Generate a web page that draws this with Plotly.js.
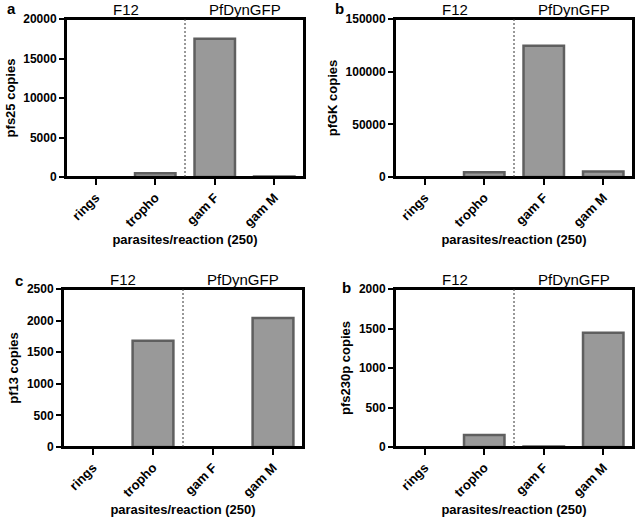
<!DOCTYPE html>
<html>
<head>
<meta charset="utf-8">
<script src="https://cdn.plot.ly/plotly-3.0.1.min.js"></script>
<style>
  html, body { margin: 0; padding: 0; background: #fff; }
  #plot { width: 638px; height: 519px; }
</style>
</head>
<body>
<div id="plot"></div>
<script>
// stages (same for every panel)
const stages = ["rings", "tropho", "gam F", "gam M"];
const groups = ["F12", "PfDynGFP"];

// copies per gene
const pfs25 = [0, 480, 17500, 60];
const pfGK = [0, 4500, 124500, 5200];
const pf13 = [0, 1680, 0, 2040];
const pfs230p = [0, 152, 5, 1445];

const W = 638, H = 519;
const FONT = "Liberation Sans, Arial, sans-serif";

const panels = [
  { letter: "a", ytitle: "pfs25 copies", y: pfs25, max: 20000, dtick: 5000,
    left: 66, right: 304, top: 19, bottom: 177, lx: 5, ly: 8 },
  { letter: "b", ytitle: "pfGK copies", y: pfGK, max: 150000, dtick: 50000,
    left: 395, right: 633, top: 19, bottom: 177, lx: 333, ly: 8 },
  { letter: "c", ytitle: "pf13 copies", y: pf13, max: 2500, dtick: 500,
    left: 63, right: 303, top: 289, bottom: 447, lx: 13, ly: 280 },
  { letter: "b", ytitle: "pfs230p copies", y: pfs230p, max: 2000, dtick: 500,
    left: 395, right: 633, top: 289, bottom: 447, lx: 340, ly: 288 }
];

const data = [];
const layout = {
  width: W, height: H,
  margin: { l: 0, r: 0, t: 0, b: 0 },
  paper_bgcolor: "#fff",
  plot_bgcolor: "#fff",
  showlegend: false,
  font: { family: FONT, color: "#000" },
  annotations: [],
  shapes: []
};

panels.forEach((p, i) => {
  const n = i + 1;
  const xa = n === 1 ? "xaxis" : "xaxis" + n;
  const ya = n === 1 ? "yaxis" : "yaxis" + n;
  const xr = n === 1 ? "x" : "x" + n;
  const yr = n === 1 ? "y" : "y" + n;

  data.push({
    type: "bar",
    x: stages,
    y: p.y,
    xaxis: xr, yaxis: yr,
    width: 0.68,
    marker: {
      color: "#999999",
      // no outline on empty bars, otherwise plotly draws a flat line
      line: { color: "#5f5f5f", width: p.y.map(v => v > 0 ? 2.5 : 0) }
    },
    hoverinfo: "x+y"
  });

  layout[xa] = {
    domain: [p.left / W, p.right / W],
    anchor: yr,
    type: "category",
    range: [-0.5, 3.5],
    showline: true, linewidth: 2, linecolor: "#000", mirror: true,
    ticks: "outside", ticklen: 6, tickwidth: 2, tickcolor: "#000",
    tickangle: -45,
    tickfont: { family: FONT, size: 13, weight: "bold" },
    showgrid: false, zeroline: false, fixedrange: true,
    title: { text: "parasites/reaction (250)", standoff: 6,
             font: { family: FONT, size: 13, weight: "bold" } }
  };
  layout[ya] = {
    domain: [1 - p.bottom / H, 1 - p.top / H],
    anchor: xr,
    range: [0, p.max],
    dtick: p.dtick,
    tickformat: "d",
    showline: true, linewidth: 2, linecolor: "#000", mirror: true,
    ticks: "outside", ticklen: 5, tickwidth: 2, tickcolor: "#000",
    tickfont: { family: FONT, size: 12, weight: "bold" },
    showgrid: false, zeroline: false, fixedrange: true,
    title: { text: p.ytitle, standoff: 5,
             font: { family: FONT, size: 13, weight: "bold" } }
  };

  // box around the plot area
  layout.shapes.push({
    type: "rect", xref: xr + " domain", yref: yr + " domain",
    x0: 0, x1: 1, y0: 0, y1: 1,
    line: { color: "#000", width: 2 }, layer: "above"
  });

  // dashed separator between the two strains
  layout.shapes.push({
    type: "line", xref: xr, yref: yr + " domain",
    x0: 1.5, x1: 1.5, y0: 0, y1: 1,
    line: { color: "#333", width: 1, dash: "2px,2px" }
  });

  // strain labels above the plot
  layout.annotations.push(
    { text: groups[0], xref: xr, yref: "paper", x: 0.5, y: 1 - (p.top - 10) / H,
      showarrow: false, font: { family: FONT, size: 15 }, yanchor: "middle" },
    { text: groups[1], xref: xr, yref: "paper", x: 2.5, y: 1 - (p.top - 10) / H,
      showarrow: false, font: { family: FONT, size: 15 }, yanchor: "middle" },
    { text: p.letter, xref: "paper", yref: "paper", x: p.lx / W, y: 1 - p.ly / H,
      xanchor: "left", yanchor: "middle", showarrow: false,
      font: { family: FONT, size: 15, weight: "bold" } }
  );
});

Plotly.newPlot("plot", data, layout, { displayModeBar: false, staticPlot: true });
</script>
</body>
</html>
